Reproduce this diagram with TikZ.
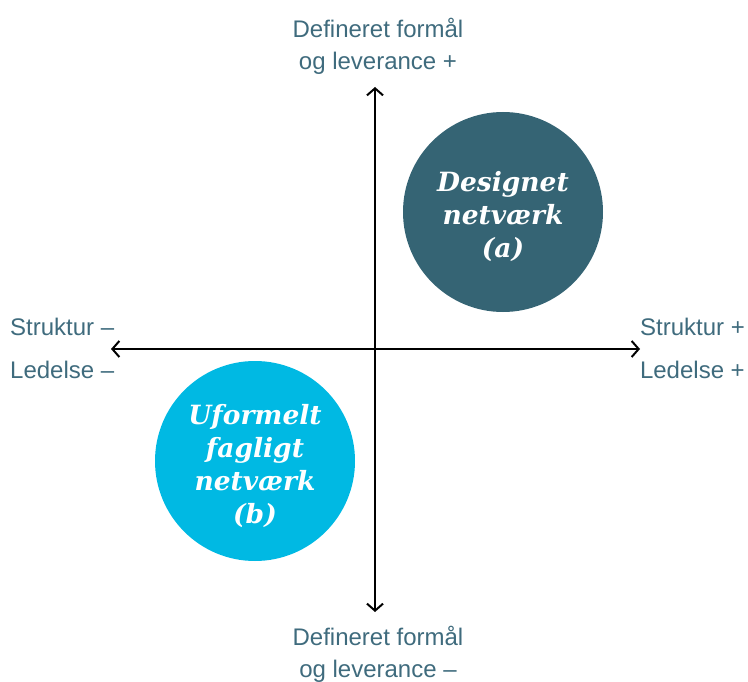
\documentclass[tikz,border=0pt]{standalone}
\usepackage{fontspec}
\setmainfont{Liberation Sans}
\newfontfamily\circfont{DejaVu Serif}
\usetikzlibrary{arrows.meta}
\definecolor{labelcol}{HTML}{3F6B7D}
\definecolor{darkteal}{HTML}{356474}
\definecolor{lightblue}{HTML}{00B9E3}
\tikzset{
  axis/.style={line width=2pt, black, {Straight Barb[length=7pt,width=16pt,line width=2pt]}-{Straight Barb[length=7pt,width=16pt,line width=2pt]}},
  lbl/.style={text=labelcol, font=\fontsize{24}{32}\selectfont, inner sep=0pt},
  circ/.style={circle, minimum size=200pt, inner sep=0pt},
  circtext/.style={text=white, align=center, inner sep=0pt,
    font=\circfont\bfseries\itshape\fontsize{26.5}{33}\selectfont},
}
\begin{document}
\begin{tikzpicture}[x=1pt,y=-1pt]
\useasboundingbox (0,0) rectangle (748,682);
\node[circ, fill=darkteal] (a) at (503,212) {};
\node[circ, fill=lightblue] (b) at (255,461) {};
\node[circtext] (at) at (503,216) {Designet\\netværk\\(a)};
\node[circtext] (bt) at (255,466) {Uformelt\\fagligt\\netværk\\(b)};
\coordinate (top) at (375,87);
\coordinate (bot) at (375,612);
\coordinate (left) at (111,349);
\coordinate (right) at (640,349);
\draw[axis] (bot) -- (top);
\draw[axis] (left) -- (right);
\node[lbl, align=center] (tl) at (378,46) {Defineret formål\\og leverance +};
\node[lbl, align=center] (bl) at (378,654) {Defineret formål\\og leverance –};
\node[lbl, anchor=west] (sl) at (10,327) {Struktur –};
\node[lbl, anchor=west] (ll) at (10,370) {Ledelse –};
\node[lbl, anchor=east] (sr) at (745,327) {Struktur +};
\node[lbl, anchor=east] (lr) at (745,370) {Ledelse +};
\end{tikzpicture}
\end{document}
